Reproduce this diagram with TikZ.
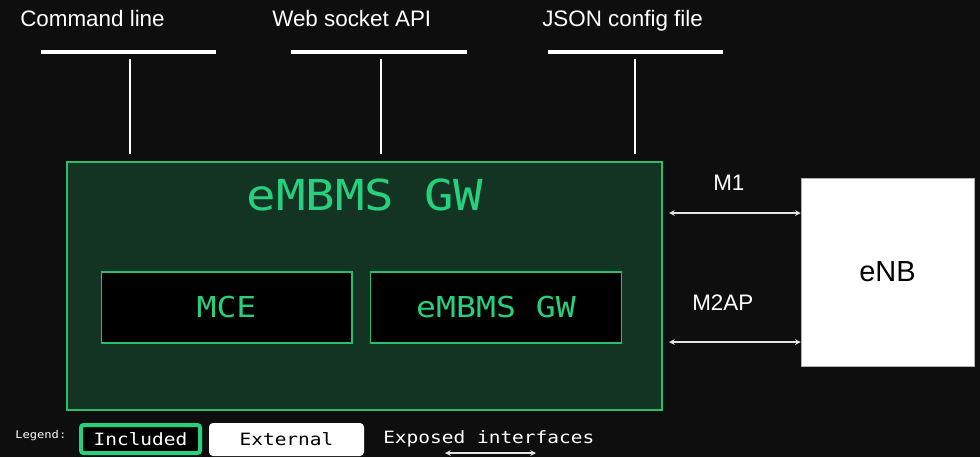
\documentclass[tikz,border=0pt]{standalone}
\usepackage{fontspec}
\setmainfont{Liberation Sans}
\newfontfamily\gwmono[FakeStretch=1.15]{DejaVu Sans Mono}
\usepackage{xcolor}
\usepackage{tikz}
\usetikzlibrary{shapes, arrows, calc}

\definecolor{bgdark}{RGB}{14,14,14}
\definecolor{gwfill}{RGB}{19,51,35}
\definecolor{gwline}{RGB}{40,190,110}
\definecolor{gwtext}{RGB}{38,208,124}

\tikzset{
  gwbox/.style={draw=gwline, line width=1pt, fill=gwfill, inner sep=0pt},
  subbox/.style={draw=gwline, line width=1pt, fill=black, inner sep=0pt, minimum width=188pt, minimum height=53.25pt, text=gwtext, font=\gwmono\fontsize{21.6}{25}\selectfont},
  apibar/.style={fill=white, inner sep=0pt, minimum width=131.25pt, minimum height=3pt},
  stub/.style={draw=white, line width=1.5pt},
  iface/.style={draw=white!90!black, line width=0.9pt, <->, >=stealth},
  lbl/.style={text=white, inner sep=0pt, font=\fontsize{16.8}{20}\selectfont},
  legtext/.style={text=white, inner sep=0pt, font=\gwmono\fontsize{12.7}{15}\selectfont},
}

\begin{document}
\begin{tikzpicture}[x=0.75pt,y=0.75pt,yscale=-1,xscale=1]
%background, sets the size of the picture
\fill[bgdark] (0,0) rectangle (980,457);
\path[use as bounding box] (0,0) rectangle (980,457);

%Shapes
\node[gwbox, minimum width=446.25pt, minimum height=186pt] (gw) at (364.5,286) {};
\node[subbox] (mce) at (226.5,307.5) {MCE};
\node[subbox] (gwin) at (496,307.5) {eMBMS GW};
\node[fill=white, draw=gray!60, inner sep=0pt, minimum width=129.75pt, minimum height=141pt, font=\fontsize{21.75}{26}\selectfont] (enb) at (887.5,272) {eNB};

%Bars of the APIs
\node[apibar] (bar1) at (128,52) {};
\node[apibar, minimum width=132pt] (bar2) at (379,52) {};
\node[apibar] (bar3) at (635,52) {};

% Text Node
\node[lbl, anchor=base west] (cli) at (20,26) {Command line};
% Text Node
\node[lbl, anchor=base west] (wsapi) at (272,26) {Web socket API};
% Text Node
\node[lbl, anchor=base west] (json) at (542,26) {JSON config file};
% Text Node
\node[text=gwtext, font=\gwmono\fontsize{32}{37}\selectfont] (title) at (365,195) {eMBMS GW};

%Straight Lines
\draw[stub] ($(bar1.south)+(2,5)$) -- ($(bar1.south |- gw.north)+(2,-7)$);
\draw[stub] ($(bar2.south)+(2,5)$) -- ($(bar2.south |- gw.north)+(2,-7)$);
\draw[stub] ($(bar3.south)+(0,5)$) -- ($(bar3.south |- gw.north)+(0,-7)$);

%Interfaces to the eNB
\coordinate (m1) at (669,213);
\coordinate (m2ap) at (669,342);
\draw[iface] (m1) -- (m1 -| enb.west);
\draw[iface] (m2ap) -- (m2ap -| enb.west);
% Text Node
\node[lbl, anchor=base west] (m1lbl) at (713,190) {M1};
% Text Node
\node[lbl, anchor=base west] (m2aplbl) at (692,310) {M2AP};

%Legend
\node[text=white, inner sep=0pt, anchor=west, font=\gwmono\fontsize{7.9}{9}\selectfont] (legend) at (15,436) {Legend:};
\node[legtext, draw=gwtext, line width=3pt, fill=black, rounded corners=2pt, minimum width=89.25pt, minimum height=21pt] (incl) at (140.5,439) {Included};
\node[legtext, text=black, fill=white, rounded corners=3pt, minimum width=116.25pt, minimum height=24.75pt] (ext) at (286.5,439.5) {External};
\node[legtext, anchor=west] (expo) at (383,439) {Exposed interfaces};
\coordinate (legarr) at (445,453);
\draw[iface] (legarr) -- ++(91,0);

\end{tikzpicture}
\end{document}
